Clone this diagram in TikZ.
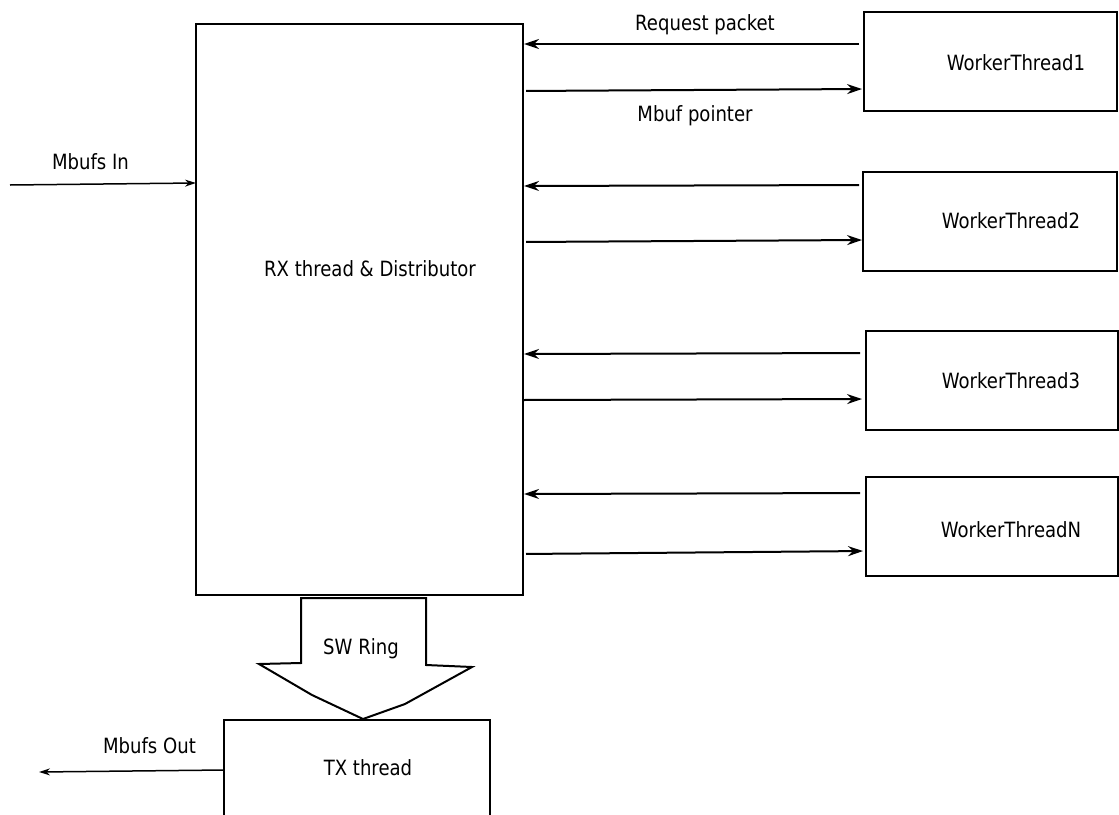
\documentclass[tikz,border=0pt]{standalone}
\usepackage{fontspec}
\setmainfont{DejaVu Sans}
\usetikzlibrary{arrows.meta}
\newcommand{\lbl}[1]{\scalebox{0.86}[1]{#1}}
\begin{document}
\begin{tikzpicture}[x=1pt,y=-1pt,
  box/.style={draw, line width=2pt, inner sep=0pt, outer sep=0pt},
  txt/.style={anchor=base, inner sep=0pt, font=\fontsize{21}{25}\selectfont},
  link/.style={line width=2pt, -{Stealth[length=15pt,width=10pt,inset=5pt]}},
  thinlink/.style={line width=1.5pt, -{Stealth[length=11pt,width=7pt,inset=3.5pt]}}]
\clip (0,0) rectangle (1119,814);
\fill[white] (0,0) rectangle (1119,814);
% boxes
\node[box, minimum width=327pt, minimum height=571pt] (rx) at (359.5,309.5) {};
\node[box, minimum width=253pt, minimum height=99pt] (w1) at (990.5,61.5) {};
\node[box, minimum width=254pt, minimum height=99pt] (w2) at (990,221.5) {};
\node[box, minimum width=252pt, minimum height=99pt] (w3) at (992,380.5) {};
\node[box, minimum width=252pt, minimum height=99pt] (wn) at (992,526.5) {};
\node[box, minimum width=266pt, minimum height=140pt] (tx) at (357,790) {};
% labels
\node[txt] (lrx) at (370,276) {\lbl{RX thread \& Distributor}};
\node[txt] (lw1) at (1016,70) {\lbl{WorkerThread1}};
\node[txt] (lw2) at (1011,228) {\lbl{WorkerThread2}};
\node[txt] (lw3) at (1011,388) {\lbl{WorkerThread3}};
\node[txt] (lwn) at (1011,537) {\lbl{WorkerThreadN}};
\node[txt] (ltx) at (368,775) {\lbl{TX thread}};
\node[txt] (lreq) at (705,30) {\lbl{Request packet}};
\node[txt] (lmbuf) at (695,121) {\lbl{Mbuf pointer}};
\node[txt] (lin) at (90.5,169) {\lbl{Mbufs In}};
\node[txt] (lout) at (149.5,753) {\lbl{Mbufs Out}};
% worker connectors
\draw[link, shorten <=5pt, shorten >=1pt] (w1.west |- 0,44) -- (rx.east |- 0,44);
\draw[link, shorten <=3pt, shorten >=2pt] (rx.east |- 0,91) -- (w1.west |- 0,89);
\draw[link, shorten <=4pt, shorten >=1pt] (w2.west |- 0,185) -- (rx.east |- 0,186);
\draw[link, shorten <=3pt, shorten >=1pt] (rx.east |- 0,242) -- (w2.west |- 0,240);
\draw[link, shorten <=6pt, shorten >=1pt] (w3.west |- 0,353) -- (rx.east |- 0,354);
\draw[link, shorten <=1pt, shorten >=4pt] (rx.east |- 0,400) -- (w3.west |- 0,399);
\draw[link, shorten <=6pt, shorten >=1pt] (wn.west |- 0,493) -- (rx.east |- 0,494);
\draw[link, shorten <=3pt, shorten >=3pt] (rx.east |- 0,554) -- (wn.west |- 0,551);
% in / out
\coordinate (inStart) at (10,185);
\coordinate (outEnd) at (39,772);
\draw[thinlink] (inStart) -- (rx.west |- 0,183);
\draw[thinlink] (tx.west |- 0,770) -- (outEnd);
% SW ring arrow
\draw[line width=2pt, line join=miter] (301,598) -- (426,598) -- (426,665) -- (472,667)
  -- (405,704) -- (363,719) -- (312,695) -- (259,664) -- (301,663) -- cycle;
\node[txt] (lsw) at (361,654) {\lbl{SW Ring}};
\end{tikzpicture}
\end{document}
